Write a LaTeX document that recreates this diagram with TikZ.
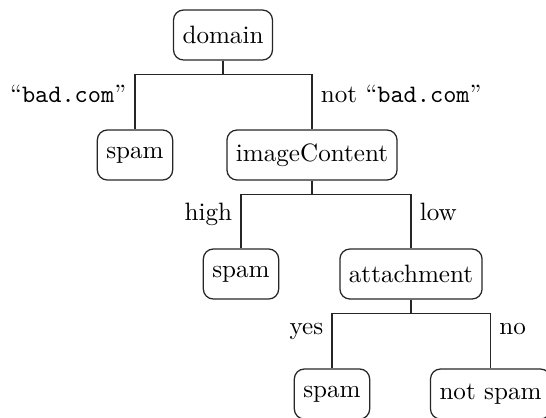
\documentclass[tikz,border=0pt]{standalone}
\usepackage{amsmath}
\usepackage{tikz}
\usetikzlibrary{shapes,shapes.misc}
\begin{document}
\begin{tikzpicture}
   \useasboundingbox (0,0) rectangle (7.644,-5.838);
   \tikzstyle{main}=[rectangle, rounded corners=4pt, draw=black!85, line width=0.5pt, minimum height=7mm, inner xsep=3.6pt]
   \tikzstyle{branch}=[draw=black!85, line width=0.5pt, to path={(\tikztostart.south) -- ++(0,-0.19) -| (\tikztotarget.north)}]
   \node[main] (domain) at (3.122,-0.49) {domain};
   \node[main] (spamA) at (1.89,-2.17) {spam};
   \node[main] (content) at (4.368,-2.17) {imageContent};
   \node[main] (spamB) at (3.374,-3.836) {spam};
   \node[main] (attach) at (5.754,-3.836) {attachment};
   \node[main] (spamC) at (4.648,-5.516) {spam};
   \node[main] (notspam) at (6.867,-5.516) {not spam};
   \foreach \from/\to in {domain/spamA,domain/content,content/spamB,content/attach,attach/spamC,attach/notspam} {
       \path (\from) edge[branch] (\to);
   }
   % branch labels
   \node[anchor=base east] (badA) at (1.89,-1.428) {``\texttt{bad.com}''};
   \node[anchor=base west] (badB) at (4.368,-1.428) {not ``\texttt{bad.com}''};
   \node[anchor=base east] (high) at (3.374,-3.08) {high};
   \node[anchor=base west] (low) at (5.754,-3.08) {low};
   \node[anchor=base east] (yes) at (4.648,-4.676) {yes};
   \node[anchor=base west] (no) at (6.867,-4.676) {no};
\end{tikzpicture}
\end{document}
